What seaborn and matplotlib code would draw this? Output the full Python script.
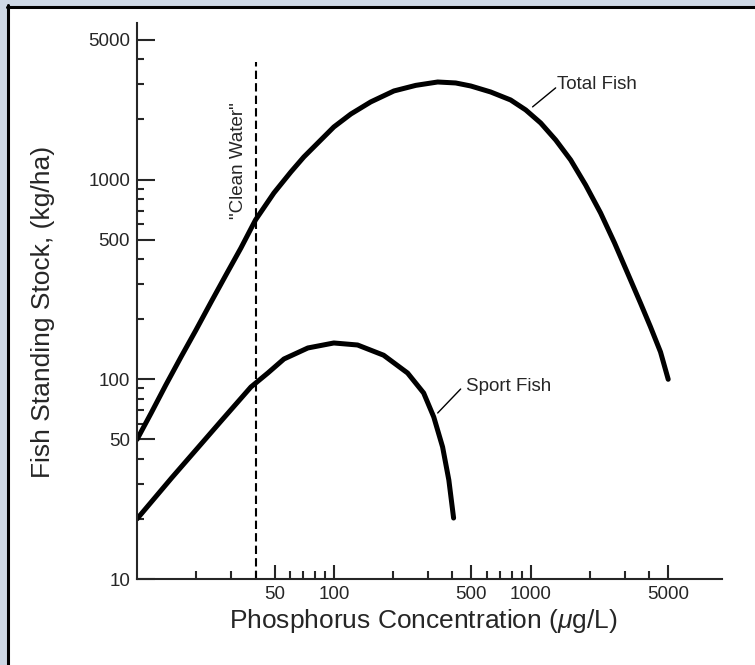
import matplotlib.pyplot as plt
import matplotlib.ticker as mticker
from matplotlib.patches import Rectangle
from matplotlib.lines import Line2D
import numpy as np
import pandas as pd
import seaborn as sns

# values (log-log axes)
total_p = [10, 11.8, 14.0, 16.7, 19.9, 23.8, 28.3, 33.7, 40, 49.6, 60.5, 70.4, 83.9, 100, 122, 154,
           202, 261, 337, 416, 496, 626, 791, 944, 1125, 1341, 1597, 1902, 2266, 2668, 3105, 3614,
           4064, 4570, 5000]
total_stock = [50, 67.8, 93.6, 129, 176, 244, 333, 454, 628, 857, 1092, 1298, 1543, 1834, 2129, 2448,
               2778, 2963, 3080, 3046, 2942, 2746, 2504, 2232, 1920, 1578, 1254, 940, 681, 482, 341, 241,
               183, 137, 100]
sport_p = [10, 15, 21, 27, 37.9, 46.2, 55.8, 73.8, 100, 132, 179, 237, 286, 322, 357, 384, 406]
sport_stock = [20, 32.1, 47, 62.5, 91.5, 107.5, 126.4, 143.5, 152, 148.5, 132, 107.5, 85.4, 64.7, 45.8, 31.3, 20.2]
clean_water_p = 40

x_major = [50, 100, 500, 1000, 5000]
x_minor = [20, 30, 40, 60, 70, 80, 90, 200, 300, 400, 600, 700, 800, 900, 2000, 3000, 4000]
y_major = [10, 50, 100, 500, 1000, 5000]
y_minor = [20, 30, 40, 60, 70, 80, 90, 200, 300, 400, 600, 700, 800, 900, 2000, 3000, 4000]

df = pd.concat([
    pd.DataFrame({'P': total_p, 'stock': total_stock, 'series': 'Total Fish'}),
    pd.DataFrame({'P': sport_p, 'stock': sport_stock, 'series': 'Sport Fish'}),
])

sns.set_style('ticks')
plt.rcParams['font.family'] = ['Liberation Sans', 'DejaVu Sans']
plt.rcParams['mathtext.fontset'] = 'custom'
plt.rcParams['mathtext.rm'] = 'Liberation Sans'
plt.rcParams['mathtext.it'] = 'Liberation Sans:italic'

fig = plt.figure(figsize=(7.55, 6.65), dpi=100)
ax = fig.add_axes([0.1815, 0.1293, 0.775, 0.8361])

sns.lineplot(data=df, x='P', y='stock', hue='series', units='series', estimator=None,
             sort=False, palette={'Total Fish': 'black', 'Sport Fish': 'black'},
             linewidth=3.6, legend=False, ax=ax)
for ln in ax.lines:
    ln.set_solid_joinstyle('round')
    ln.set_solid_capstyle('round')
ax.set_xscale('log')
ax.set_yscale('log')
ax.set_xlim(10, 9400)
ax.set_ylim(10, 6080)

# "clean water" threshold
ax.plot([clean_water_p, clean_water_p], [10, 3880], color='black', lw=1.5, ls=(0, (4, 2)))
ax.text(32.7, 1250, '"Clean Water"', rotation=90, ha='center', va='center', fontsize=13.5)

# curve labels with leader lines
ax.plot([1023, 1340], [2312, 2878], color='black', lw=1)
ax.text(1360, 2980, 'Total Fish', ha='left', va='center', fontsize=13.5)
ax.plot([337, 441], [67.8, 89.4], color='black', lw=1)
ax.text(468, 92.5, 'Sport Fish', ha='left', va='center', fontsize=13.5)

ax.xaxis.set_major_locator(mticker.FixedLocator(x_major))
ax.xaxis.set_minor_locator(mticker.FixedLocator(x_minor))
ax.yaxis.set_major_locator(mticker.FixedLocator(y_major))
ax.yaxis.set_minor_locator(mticker.FixedLocator(y_minor))
ax.xaxis.set_major_formatter(mticker.FixedFormatter([str(v) for v in x_major]))
ax.yaxis.set_major_formatter(mticker.FixedFormatter([str(v) for v in y_major]))
ax.xaxis.set_minor_formatter(mticker.NullFormatter())
ax.yaxis.set_minor_formatter(mticker.NullFormatter())

ax.tick_params(axis='both', which='both', direction='in', width=1.5, labelsize=13.5, pad=5)
ax.tick_params(axis='y', which='major', length=13)
ax.tick_params(axis='y', which='minor', length=5)
ax.tick_params(axis='x', which='major', length=10)
ax.tick_params(axis='x', which='minor', length=6)

sns.despine(ax=ax)
for s in ['left', 'bottom']:
    ax.spines[s].set_linewidth(1.5)

ax.set_xlabel(r'Phosphorus Concentration ($\mu$g/L)', fontsize=19)
ax.set_ylabel('Fish Standing Stock, (kg/ha)', fontsize=19)
ax.xaxis.set_label_coords(0.489, -0.05)
ax.yaxis.set_label_coords(-0.14, 0.48)

# scanned-page frame
fig.patches.append(Rectangle((0, 0), 7 / 755, 1, transform=fig.transFigure, color='#cdd7e4', zorder=-1))
fig.patches.append(Rectangle((0, 1 - 5 / 665), 1, 5 / 665, transform=fig.transFigure, color='#cdd7e4', zorder=-1))
fig.lines.append(Line2D([8 / 755, 8 / 755], [0, 1 - 5 / 665], transform=fig.transFigure, color='black', lw=2.2))
fig.lines.append(Line2D([7 / 755, 1], [1 - 6.5 / 665, 1 - 6.5 / 665], transform=fig.transFigure, color='black', lw=2.2))

fig.savefig('out.png', dpi=100)
